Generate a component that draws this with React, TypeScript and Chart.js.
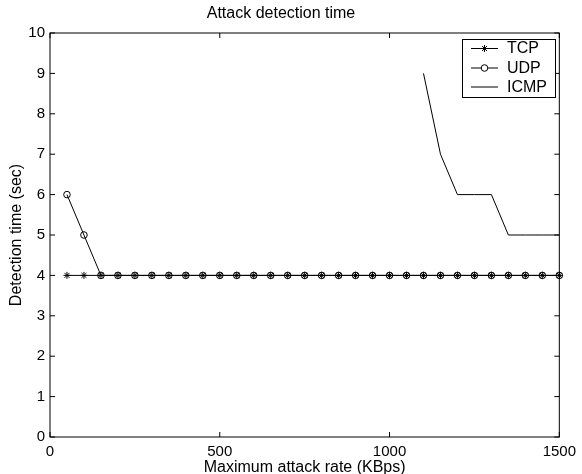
import React, { useEffect, useRef } from 'react';
import { Chart, registerables } from 'chart.js';

Chart.register(...registerables);

const chartTitle = 'Attack detection time';
const xTitle = 'Maximum attack rate (KBps)';
const yTitle = 'Detection time (sec)';
const seriesNames = ['TCP', 'UDP', 'ICMP'];

const rates = [50, 100, 150, 200, 250, 300, 350, 400, 450, 500, 550, 600, 650, 700, 750, 800, 850, 900, 950, 1000, 1050, 1100, 1150, 1200, 1250, 1300, 1350, 1400, 1450, 1500];
const tcpValues = [4, 4, 4, 4, 4, 4, 4, 4, 4, 4, 4, 4, 4, 4, 4, 4, 4, 4, 4, 4, 4, 4, 4, 4, 4, 4, 4, 4, 4, 4];
const udpValues = [6, 5, 4, 4, 4, 4, 4, 4, 4, 4, 4, 4, 4, 4, 4, 4, 4, 4, 4, 4, 4, 4, 4, 4, 4, 4, 4, 4, 4, 4];
const icmpRates = [1100, 1150, 1200, 1250, 1300, 1350, 1400, 1450, 1500];
const icmpValues = [9, 7, 6, 6, 6, 5, 5, 5, 5];

const xTicks = [0, 500, 1000, 1500];
const yTicks = [0, 1, 2, 3, 4, 5, 6, 7, 8, 9, 10];

const FONT = 'Liberation Sans, Arial, Helvetica, sans-serif';

function drawStar(ctx: CanvasRenderingContext2D, x: number, y: number, r: number) {
  const d = r * Math.SQRT1_2;
  ctx.beginPath();
  ctx.moveTo(x - r, y); ctx.lineTo(x + r, y);
  ctx.moveTo(x, y - r); ctx.lineTo(x, y + r);
  ctx.moveTo(x - d, y - d); ctx.lineTo(x + d, y + d);
  ctx.moveTo(x - d, y + d); ctx.lineTo(x + d, y - d);
  ctx.stroke();
}

const framePlugin = {
  id: 'matlabFrame',
  afterDraw(chart: any) {
    const { ctx, chartArea: a, scales } = chart;
    const xs = scales.x;
    const ys = scales.y;
    ctx.save();
    ctx.strokeStyle = '#000';
    ctx.lineWidth = 1;
    ctx.strokeRect(a.left, a.top, a.right - a.left, a.bottom - a.top);
    ctx.beginPath();
    const tl = 5;
    for (const v of xTicks) {
      const px = xs.getPixelForValue(v);
      ctx.moveTo(px, a.bottom); ctx.lineTo(px, a.bottom - tl);
      ctx.moveTo(px, a.top); ctx.lineTo(px, a.top + tl);
    }
    for (const v of yTicks) {
      const py = ys.getPixelForValue(v);
      ctx.moveTo(a.left, py); ctx.lineTo(a.left + tl, py);
      ctx.moveTo(a.right, py); ctx.lineTo(a.right - tl, py);
    }
    ctx.stroke();

    // legend
    const bx = 462.5, by = 39.5, bw = 93, bh = 58;
    ctx.fillStyle = '#fff';
    ctx.fillRect(bx, by, bw, bh);
    ctx.strokeRect(bx, by, bw, bh);
    const rows = [48.5, 68, 87];
    const styles = ['star', 'circle', 'none'];
    ctx.font = `16px ${FONT}`;
    ctx.textBaseline = 'middle';
    ctx.textAlign = 'left';
    seriesNames.forEach((name, i) => {
      const y = rows[i];
      ctx.beginPath();
      ctx.moveTo(471, y); ctx.lineTo(498, y);
      ctx.stroke();
      if (styles[i] === 'star') drawStar(ctx, 484.5, y, 3.5);
      if (styles[i] === 'circle') {
        ctx.fillStyle = '#fff';
        ctx.beginPath();
        ctx.arc(484.5, y, 3.3, 0, Math.PI * 2);
        ctx.fill();
        ctx.stroke();
      }
      ctx.fillStyle = '#000';
      ctx.fillText(name, 507, y + 0.5);
    });
    ctx.restore();
  },
};

export default function App() {
  const ref = useRef<HTMLCanvasElement | null>(null);
  useEffect(() => {
    if (!ref.current) return;
    Chart.defaults.font.family = FONT;
    Chart.defaults.color = '#000';
    const chart = new Chart(ref.current, {
      type: 'line',
      data: {
        datasets: [
          {
            label: seriesNames[0],
            data: rates.map((r, i) => ({ x: r, y: tcpValues[i] })),
            borderColor: '#000',
            borderWidth: 1,
            pointStyle: 'star',
            pointRadius: 3.5,
            pointBorderColor: '#000',
            pointBorderWidth: 1,
            pointBackgroundColor: 'rgba(0,0,0,0)',
            fill: false,
            clip: false,
          },
          {
            label: seriesNames[1],
            data: rates.map((r, i) => ({ x: r, y: udpValues[i] })),
            borderColor: '#000',
            borderWidth: 1,
            pointStyle: 'circle',
            pointRadius: 3.3,
            pointBorderColor: '#000',
            pointBorderWidth: 1,
            pointBackgroundColor: 'rgba(0,0,0,0)',
            fill: false,
            clip: false,
          },
          {
            label: seriesNames[2],
            data: icmpRates.map((r, i) => ({ x: r, y: icmpValues[i] })),
            borderColor: '#000',
            borderWidth: 1,
            pointRadius: 0,
            fill: false,
            clip: false,
          },
        ],
      },
      options: {
        animation: false,
        responsive: false,
        maintainAspectRatio: false,
        events: [],
        layout: { padding: { left: 0, right: 20, top: 0, bottom: 0 } },
        plugins: {
          legend: { display: false },
          tooltip: { enabled: false },
          title: {
            display: true,
            text: chartTitle,
            color: '#000',
            font: { size: 16, weight: 'normal', family: FONT, lineHeight: 1.2 },
            padding: { top: 4, bottom: 9.8 },
          },
        },
        scales: {
          x: {
            type: 'linear',
            min: 0,
            max: 1500,
            afterFit: (s: any) => { s.height = 37; },
            afterBuildTicks: (s: any) => { s.ticks = xTicks.map((v) => ({ value: v })); },
            grid: { display: false, drawTicks: false },
            border: { display: false },
            ticks: { color: '#000', font: { size: 15, family: FONT }, padding: 6, maxRotation: 0, autoSkip: false, callback: (v: any) => String(v) },
            title: {
              display: true,
              text: xTitle,
              color: '#000',
              font: { size: 16, family: FONT, lineHeight: 1 },
              padding: { top: 0, bottom: -2 },
            },
          },
          y: {
            type: 'linear',
            min: 0,
            max: 10,
            afterFit: (s: any) => { s.width = 50; },
            afterBuildTicks: (s: any) => { s.ticks = yTicks.map((v) => ({ value: v })); },
            grid: { display: false, drawTicks: false },
            border: { display: false },
            ticks: { color: '#000', font: { size: 15, family: FONT }, padding: 5, autoSkip: false, callback: (v: any) => String(v) },
            title: {
              display: true,
              text: yTitle,
              color: '#000',
              font: { size: 16, family: FONT, lineHeight: 1.2 },
              padding: { top: 7, bottom: 0 },
            },
          },
        },
      },
      plugins: [framePlugin],
    } as any);
    return () => chart.destroy();
  }, []);
  return (
    <div style={{ position: 'fixed', left: 0, top: 0, width: 582, height: 474, background: '#fff' }}>
      <canvas ref={ref} width={582} height={474} style={{ display: 'block', width: 582, height: 474 }} />
    </div>
  );
}
